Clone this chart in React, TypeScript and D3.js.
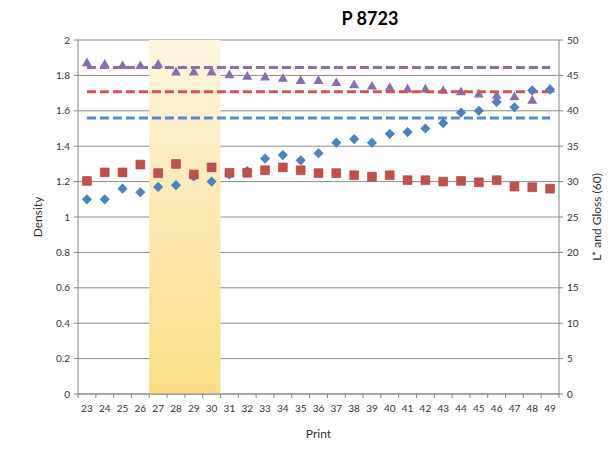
import React from 'react';
import * as d3 from 'd3';

// print numbers on the x axis
const prints = ['23', '24', '25', '26', '27', '28', '29', '30', '31', '32', '33', '34', '35', '36',
  '37', '38', '39', '40', '41', '42', '43', '44', '45', '46', '47', '48', '49'];

// density (left axis)
const density = [1.10, 1.10, 1.16, 1.14, 1.17, 1.18, 1.23, 1.20, 1.24, 1.26, 1.33, 1.35, 1.32, 1.36,
  1.42, 1.44, 1.42, 1.47, 1.48, 1.50, 1.53, 1.59, 1.60, 1.65, 1.62, 1.715, 1.72];

// L* (right axis)
const lStar = [30.1, 31.3, 31.3, 32.4, 31.2, 32.5, 31.0, 32.0, 31.25, 31.25, 31.6, 32.0, 31.6, 31.2,
  31.2, 30.9, 30.7, 30.9, 30.2, 30.2, 30.0, 30.1, 29.9, 30.2, 29.3, 29.2, 29.0];

// gloss 60 (right axis)
const gloss = [46.7, 46.5, 46.3, 46.3, 46.5, 45.4, 45.4, 45.4, 45.0, 44.8, 44.7, 44.5, 44.2, 44.2,
  43.9, 43.6, 43.4, 43.2, 43.0, 43.0, 42.8, 42.6, 42.3, 42.1, 41.9, 41.4, 43.0];

// target lines
const densityTarget = 1.56;
const lStarTarget = 42.7;
const glossTarget = 46.1;

// highlighted prints
const highlight = ['27', '30'];

const leftTicks = [0, 0.2, 0.4, 0.6, 0.8, 1, 1.2, 1.4, 1.6, 1.8, 2];
const rightTicks = [0, 5, 10, 15, 20, 25, 30, 35, 40, 45, 50];

const W = 613;
const H = 460;
const margin = { top: 40, right: 54, bottom: 66, left: 78 };
const font = 'Lato, "Open Sans", sans-serif';

export default function App() {
  const x = d3.scaleBand().domain(prints).range([margin.left, W - margin.right]).padding(0);
  const yL = d3.scaleLinear().domain([0, 2]).range([H - margin.bottom, margin.top]);
  const yR = d3.scaleLinear().domain([0, 50]).range([H - margin.bottom, margin.top]);
  const cx = (p: string) => (x(p) as number) + x.bandwidth() / 2;
  const x0 = margin.left;
  const x1 = W - margin.right;
  const yBot = H - margin.bottom;

  const diamond = d3.symbol().type(d3.symbolDiamond2).size(66)() as string;
  const square = d3.symbol().type(d3.symbolSquare2).size(100)() as string;
  const triangle = d3.symbol().type(d3.symbolTriangle2).size(72)() as string;

  const bandX0 = x(highlight[0]) as number;
  const bandX1 = (x(highlight[1]) as number) + x.bandwidth();

  const lineStart = cx(prints[0]);
  const lineEnd = cx(prints[prints.length - 1]);
  const dash = '9 4';

  return (
    <svg width={W} height={H} style={{ position: 'absolute', left: 0, top: 0, background: '#fff' }}
      fontFamily={font}>
      <defs>
        <linearGradient id="band" x1="0" y1="0" x2="0" y2="1">
          <stop offset="0" stopColor="#FDF5DF" />
          <stop offset="1" stopColor="#FADD85" />
        </linearGradient>
      </defs>

      {/* grid */}
      {leftTicks.map((t) => (
        <line key={'g' + t} x1={x0} x2={x1} y1={yL(t)} y2={yL(t)} stroke="#8a8a8a" strokeWidth={1} />
      ))}

      <rect x={bandX0} y={margin.top} width={bandX1 - bandX0} height={yBot - margin.top} fill="url(#band)" />

      {/* axes */}
      <line x1={x0} x2={x0} y1={margin.top} y2={yBot} stroke="#868686" />
      <line x1={x1} x2={x1} y1={margin.top} y2={yBot} stroke="#868686" />
      <line x1={x0} x2={x1} y1={yBot} y2={yBot} stroke="#868686" />
      {leftTicks.map((t) => (
        <g key={'l' + t}>
          <line x1={x0 - 4} x2={x0} y1={yL(t)} y2={yL(t)} stroke="#868686" />
          <text x={x0 - 8} y={yL(t)} dy="0.35em" textAnchor="end" fontSize={10} fill="#333">{t}</text>
        </g>
      ))}
      {rightTicks.map((t) => (
        <g key={'r' + t}>
          <line x1={x1} x2={x1 + 4} y1={yR(t)} y2={yR(t)} stroke="#868686" />
          <text x={x1 + 8} y={yR(t)} dy="0.35em" textAnchor="start" fontSize={10} fill="#333">{t}</text>
        </g>
      ))}
      {prints.map((p) => (
        <g key={'x' + p}>
          <line x1={x(p) as number} x2={x(p) as number} y1={yBot} y2={yBot + 4} stroke="#868686" />
          <text x={cx(p)} y={yBot + 18} textAnchor="middle" fontSize={10} fill="#333">{p}</text>
        </g>
      ))}
      <line x1={x1} x2={x1} y1={yBot} y2={yBot + 4} stroke="#868686" />

      {/* triangles (gloss) */}
      {gloss.map((v, i) => (
        <path key={'t' + i} d={triangle} transform={`translate(${cx(prints[i])},${yR(v)})`} fill="#8A6CB0" />
      ))}

      {/* targets */}
      <line x1={lineStart} x2={lineEnd} y1={yR(glossTarget)} y2={yR(glossTarget)} stroke="#8A6FAE" strokeWidth={3} strokeDasharray={dash} />
      <line x1={lineStart} x2={lineEnd} y1={yR(lStarTarget)} y2={yR(lStarTarget)} stroke="#D05552" strokeWidth={3} strokeDasharray={dash} />
      <line x1={lineStart} x2={lineEnd} y1={yL(densityTarget)} y2={yL(densityTarget)} stroke="#5B88C8" strokeWidth={3} strokeDasharray={dash} />

      {/* diamonds (density) */}
      {density.map((v, i) => (
        <path key={'d' + i} d={diamond} transform={`translate(${cx(prints[i])},${yL(v)})`} fill="#4F81BD" />
      ))}

      {/* squares (L*) */}
      {lStar.map((v, i) => (
        <path key={'s' + i} d={square} transform={`translate(${cx(prints[i])},${yR(v)})`} fill="#C0504D" stroke="#A8423F" strokeWidth={0.6} />
      ))}

      <text x={370} y={25} textAnchor="middle" fontSize={18} fontWeight="bold" fill="#000">P 8723</text>
      <text x={(x0 + x1) / 2} y={438} textAnchor="middle" fontSize={12} fill="#333">Print</text>
      <text transform={`translate(42,${(margin.top + yBot) / 2}) rotate(-90)`} textAnchor="middle" fontSize={12} fill="#333">Density</text>
      <text transform={`translate(601,${(margin.top + yBot) / 2}) rotate(-90)`} textAnchor="middle" fontSize={12} fill="#333">L* and Gloss (60)</text>
    </svg>
  );
}
